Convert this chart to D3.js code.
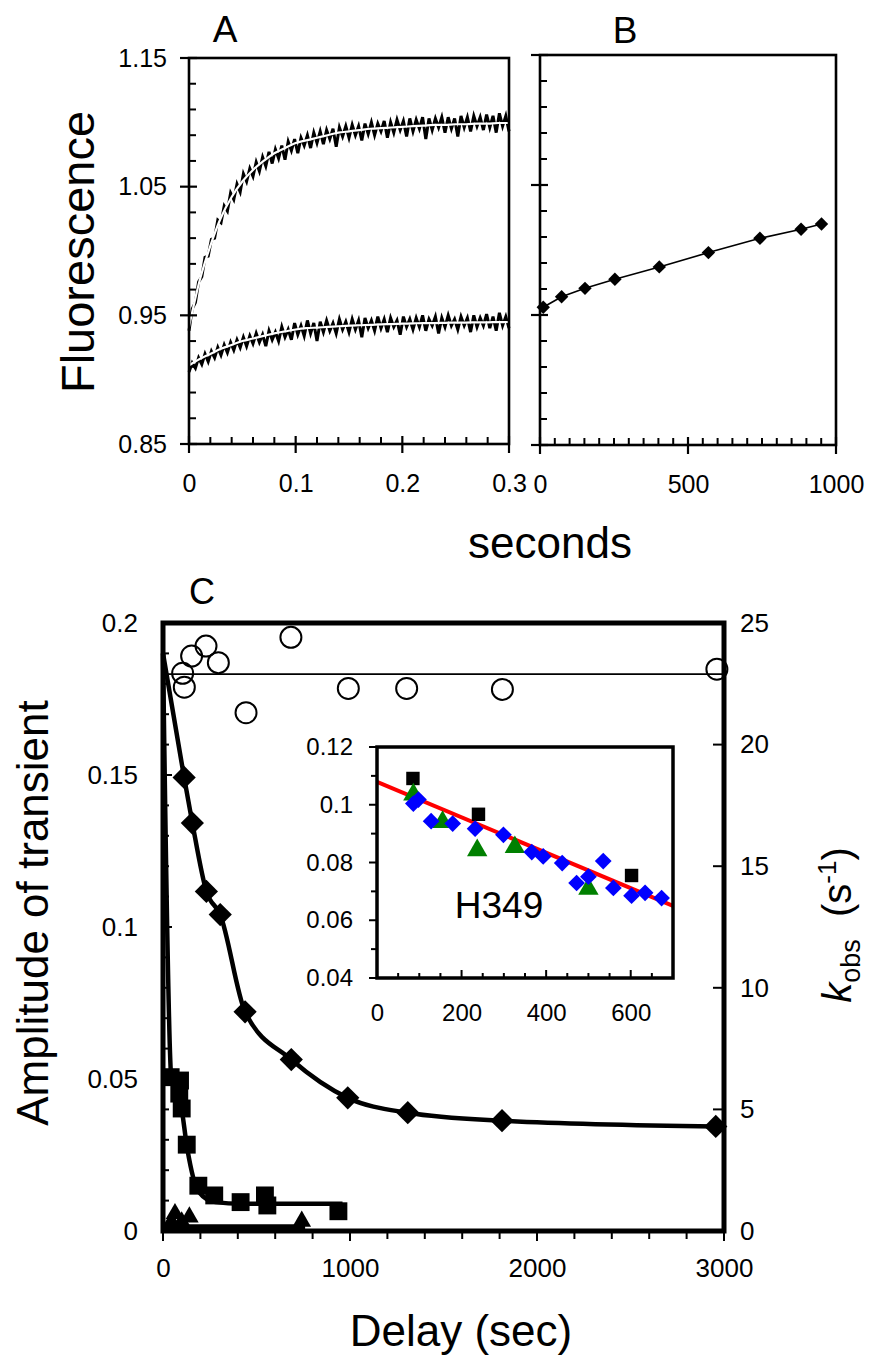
<!DOCTYPE html>
<html>
<head>
<meta charset="utf-8">
<script src="https://cdnjs.cloudflare.com/ajax/libs/d3/7.8.5/d3.min.js"></script>
<style>
  body { margin: 0; background: #fff; }
  svg text { font-family: 'Liberation Sans', Arial, sans-serif; fill: #000; }
</style>
</head>
<body>
<svg id="fig" width="874" height="1355"></svg>
<script>
/* global d3 */
// ---- panel A : stopped-flow traces (sampled every 3 ms) ----
const traceTime = d3.range(101).map(i => +(i * 0.003).toFixed(3))
const upperTrace = [0.938, 0.955, 0.960, 0.976, 0.980, 0.995, 0.996, 1.009, 1.010, 1.024,
  1.022, 1.035, 1.031, 1.045, 1.040, 1.052, 1.046, 1.060, 1.054, 1.064,
  1.058, 1.069, 1.062, 1.073, 1.066, 1.077, 1.068, 1.079, 1.072, 1.082,
  1.071, 1.085, 1.078, 1.087, 1.076, 1.088, 1.082, 1.090, 1.080, 1.092,
  1.084, 1.093, 1.083, 1.094, 1.087, 1.095, 1.081, 1.096, 1.089, 1.097,
  1.088, 1.098, 1.090, 1.097, 1.086, 1.099, 1.091, 1.100, 1.090, 1.099,
  1.093, 1.101, 1.088, 1.100, 1.092, 1.102, 1.094, 1.101, 1.089, 1.103,
  1.093, 1.102, 1.095, 1.104, 1.087, 1.103, 1.094, 1.103, 1.096, 1.104,
  1.092, 1.104, 1.095, 1.103, 1.089, 1.105, 1.096, 1.104, 1.093, 1.105,
  1.097, 1.104, 1.094, 1.106, 1.096, 1.105, 1.092, 1.107, 1.097, 1.105, 1.093]
const lowerTrace = [0.906, 0.913, 0.909, 0.917, 0.912, 0.920, 0.914, 0.922, 0.917, 0.925,
  0.919, 0.927, 0.921, 0.929, 0.923, 0.931, 0.925, 0.933, 0.926, 0.934,
  0.928, 0.936, 0.929, 0.935, 0.926, 0.938, 0.931, 0.937, 0.930, 0.941,
  0.933, 0.939, 0.931, 0.944, 0.935, 0.942, 0.934, 0.946, 0.936, 0.944,
  0.930, 0.945, 0.937, 0.946, 0.938, 0.944, 0.936, 0.947, 0.939, 0.945,
  0.937, 0.947, 0.939, 0.946, 0.933, 0.948, 0.940, 0.946, 0.938, 0.949,
  0.940, 0.947, 0.937, 0.948, 0.941, 0.946, 0.935, 0.949, 0.941, 0.947,
  0.939, 0.948, 0.941, 0.950, 0.938, 0.947, 0.942, 0.949, 0.936, 0.948,
  0.941, 0.950, 0.942, 0.947, 0.939, 0.949, 0.942, 0.948, 0.937, 0.950,
  0.941, 0.948, 0.942, 0.951, 0.940, 0.949, 0.938, 0.952, 0.942, 0.949, 0.940]
const fitTime = d3.range(31).map(i => +(i * 0.01).toFixed(2))
const upperFit = [0.941, 0.977, 1.004, 1.026, 1.042, 1.054, 1.063, 1.070, 1.076, 1.080,
  1.084, 1.086, 1.088, 1.090, 1.092, 1.093, 1.094, 1.095, 1.0955, 1.096,
  1.0965, 1.097, 1.0975, 1.098, 1.098, 1.0985, 1.0985, 1.099, 1.099, 1.0995, 1.0995]
const lowerFit = [0.911, 0.916, 0.920, 0.924, 0.927, 0.930, 0.932, 0.934, 0.936, 0.9375,
  0.939, 0.940, 0.9405, 0.941, 0.9415, 0.942, 0.9423, 0.9426, 0.943, 0.9432,
  0.9435, 0.9437, 0.944, 0.944, 0.9442, 0.9443, 0.9444, 0.9445, 0.9446, 0.9447, 0.9448]
const fluorTicks = [0.85, 0.95, 1.05, 1.15]
const secTicksA = [0, 0.1, 0.2, 0.3]

// ---- panel B ----
const bTime = [11, 73, 152, 253, 403, 569, 743, 882, 951]
const bFluor = [0.956, 0.964, 0.9705, 0.9775, 0.987, 0.998, 1.009, 1.016, 1.020]
const bStart = 0.953
const secTicksB = [0, 500, 1000]

// ---- panel C ----
const kTime = [105, 114, 153, 230, 296, 444, 684, 991, 1303, 1815, 2962]
const kObs = [22.93, 22.36, 23.64, 24.05, 23.37, 21.31, 24.41, 22.31, 22.31, 22.27, 23.1]
const kMean = 22.9
const diaTime = [113, 157, 232, 306, 439, 686, 988, 1309, 1813, 2956]
const diaAmp = [0.1492, 0.1342, 0.1117, 0.1041, 0.0721, 0.0564, 0.0438, 0.0389, 0.0363, 0.0344]
const diaStart = 0.19
const sqTime = [41, 87, 91, 100, 127, 189, 274, 415, 545, 558, 938]
const sqAmp = [0.0506, 0.0452, 0.0495, 0.0403, 0.0284, 0.0149, 0.0117, 0.0095, 0.0117, 0.0084, 0.0065]
const sqFitTime = [0, 45, 95, 130, 190, 280, 420, 960]
const sqFitAmp = [0.19, 0.05, 0.042, 0.027, 0.013, 0.0095, 0.009, 0.009]
const triTime = [45, 64, 100, 141, 742]
const triAmp = [0.003, 0.0057, 0.003, 0.0046, 0.0032]
const triFitTime = [0, 760]
const triFitAmp = [0.0012, 0.0012]
const ampTicks = [0, 0.05, 0.1, 0.15, 0.2]
const kTicks = [0, 5, 10, 15, 20, 25]
const delayTicks = [0, 1000, 2000, 3000]

// ---- inset (H349) ----
const insSqTime = [85, 240, 602]
const insSqVal = [0.1091, 0.0967, 0.0755]
const insTriTime = [86, 155, 237, 326, 500]
const insTriVal = [0.1035, 0.094, 0.0842, 0.0853, 0.0709]
const insDiaTime = [86, 98, 128, 179, 232, 299, 366, 393, 438, 472, 500, 535, 559, 602, 634, 673]
const insDiaVal = [0.1004, 0.1018, 0.0943, 0.0935, 0.0917, 0.0896, 0.0836, 0.0821, 0.0798, 0.0729,
  0.0751, 0.0805, 0.0712, 0.0685, 0.0695, 0.0677]
const insFitTime = [0, 700]
const insFitVal = [0.1079, 0.065]
const insYTicks = [0.04, 0.06, 0.08, 0.1, 0.12]
const insXTicks = [0, 200, 400, 600]

const svg = d3.select('#fig')
const FONT = "'Liberation Sans', Arial, sans-serif"

let vTicks = function (g, y, x0, values, out, inn, w) {
  g.append('g').selectAll('line').data(values).enter().append('line')
    .attr('x1', x0 - out).attr('x2', x0 + inn)
    .attr('y1', d => y(d)).attr('y2', d => y(d))
    .attr('stroke', '#000').attr('stroke-width', w)
}
let hTicks = function (g, x, y0, values, out, inn, w) {
  g.append('g').selectAll('line').data(values).enter().append('line')
    .attr('x1', d => x(d)).attr('x2', d => x(d))
    .attr('y1', y0 + out).attr('y2', y0 - inn)
    .attr('stroke', '#000').attr('stroke-width', w)
}
let labelAxis = function (axis, g, size) {
  g.call(axis.tickSize(0))
    .attr('font-size', size).attr('font-family', FONT)
  g.select('.domain').remove()
  g.selectAll('text').attr('fill', '#000')
}
let minors = function (lo, hi, step, majorEvery) {
  let n = Math.round((hi - lo) / step)
  return d3.range(n + 1).filter(i => i % majorEvery !== 0).map(i => +(lo + i * step).toFixed(4))
}
let frame = function (x, y, w) {
  svg.append('rect')
    .attr('x', x.range()[0]).attr('y', y.range()[1])
    .attr('width', x.range()[1] - x.range()[0])
    .attr('height', y.range()[0] - y.range()[1])
    .attr('fill', 'none').attr('stroke', '#000').attr('stroke-width', w)
}

// ================= panel A =================
const xA = d3.scaleLinear().domain([0, 0.3]).range([189, 509])
const yA = d3.scaleLinear().domain([0.85, 1.15]).range([444, 58])
const gA = svg.append('g')
let trace = d3.line().x((d, i) => xA(traceTime[i])).y(d => yA(d))
let fitA = d3.line().x((d, i) => xA(fitTime[i])).y(d => yA(d)).curve(d3.curveMonotoneX)
gA.append('path').attr('d', trace(upperTrace)).attr('fill', 'none').attr('stroke', '#000').attr('stroke-width', 3)
gA.append('path').attr('d', trace(lowerTrace)).attr('fill', 'none').attr('stroke', '#000').attr('stroke-width', 3)
gA.append('path').attr('d', fitA(upperFit)).attr('fill', 'none').attr('stroke', '#fff').attr('stroke-width', 2.2)
gA.append('path').attr('d', fitA(lowerFit)).attr('fill', 'none').attr('stroke', '#fff').attr('stroke-width', 2.2)
frame(xA, yA, 2.6)
vTicks(gA, yA, 189, fluorTicks, 9, 8, 2.2)
vTicks(gA, yA, 189, minors(0.85, 1.15, 0.02, 5), 0, 7, 2)
hTicks(gA, xA, 444, secTicksA, 9, 8, 2.2)
hTicks(gA, xA, 444, minors(0, 0.3, 0.02, 5), 0, 7, 2)
labelAxis(d3.axisLeft(yA).tickValues(fluorTicks).tickPadding(22).tickFormat(d => String(d)),
  svg.append('g').attr('transform', 'translate(189,0)'), 25)
labelAxis(d3.axisBottom(xA).tickValues(secTicksA).tickPadding(30).tickFormat(d => String(d)),
  svg.append('g').attr('transform', 'translate(0,444)'), 25)
svg.append('text').attr('x', 225).attr('y', 42).attr('text-anchor', 'middle')
  .attr('font-size', 37).text('A')
svg.append('text').attr('transform', 'translate(94,252) rotate(-90)')
  .attr('text-anchor', 'middle').attr('font-size', 47).text('Fluorescence')

// ================= panel B =================
const xB = d3.scaleLinear().domain([0, 1000]).range([540, 836])
const yB = d3.scaleLinear().domain([0.85, 1.15]).range([445, 55])
const gB = svg.append('g')
let lineB = d3.line().x(d => xB(d[0])).y(d => yB(d[1]))
gB.append('path').attr('d', lineB([[0, bStart]].concat(bTime.map((t, i) => [t, bFluor[i]]))))
  .attr('fill', 'none').attr('stroke', '#000').attr('stroke-width', 1.6)
frame(xB, yB, 2.6)
vTicks(gB, yB, 540, fluorTicks, 9, 8, 2.2)
vTicks(gB, yB, 540, minors(0.85, 1.15, 0.02, 5), 0, 7, 2)
hTicks(gB, xB, 445, secTicksB, 9, 8, 2.2)
hTicks(gB, xB, 445, minors(0, 1000, 50, 10), 0, 7, 2)
gB.selectAll('path.dia').data(bTime).enter().append('path')
  .attr('d', d3.symbol().type(d3.symbolSquare).size(90))
  .attr('transform', (d, i) => 'translate(' + xB(d) + ',' + yB(bFluor[i]) + ') rotate(45)')
  .attr('fill', '#000')
labelAxis(d3.axisBottom(xB).tickValues(secTicksB).tickPadding(30).tickFormat(d => String(d)),
  svg.append('g').attr('transform', 'translate(0,445)'), 25)
svg.append('text').attr('x', 625).attr('y', 43).attr('text-anchor', 'middle')
  .attr('font-size', 37).text('B')
svg.append('text').attr('x', 550).attr('y', 558).attr('text-anchor', 'middle')
  .attr('font-size', 44).text('seconds')

// ================= panel C =================
const xC = d3.scaleLinear().domain([0, 3000]).range([163, 724])
const yC = d3.scaleLinear().domain([0, 0.2]).range([1231, 623])
const kC = d3.scaleLinear().domain([0, 25]).range([1231, 623])
const gC = svg.append('g')

gC.append('line').attr('x1', xC(0)).attr('x2', xC(3000))
  .attr('y1', kC(kMean)).attr('y2', kC(kMean))
  .attr('stroke', '#000').attr('stroke-width', 1.8)
gC.selectAll('circle').data(kTime).enter().append('circle')
  .attr('cx', d => xC(d)).attr('cy', (d, i) => kC(kObs[i])).attr('r', 10.5)
  .attr('fill', 'none').attr('stroke', '#000').attr('stroke-width', 2)

let lineC = d3.line().x(d => xC(d[0])).y(d => yC(d[1])).curve(d3.curveMonotoneX)
gC.append('path').attr('d', lineC([[0, diaStart]].concat(diaTime.map((t, i) => [t, diaAmp[i]]))))
  .attr('fill', 'none').attr('stroke', '#000').attr('stroke-width', 4.5)
gC.append('path').attr('d', lineC(sqFitTime.map((t, i) => [t, sqFitAmp[i]])))
  .attr('fill', 'none').attr('stroke', '#000').attr('stroke-width', 4.5)
gC.append('path').attr('d', lineC(triFitTime.map((t, i) => [t, triFitAmp[i]])))
  .attr('fill', 'none').attr('stroke', '#000').attr('stroke-width', 6)

gC.append('g').selectAll('path').data(diaTime).enter().append('path')
  .attr('d', d3.symbol().type(d3.symbolSquare).size(270))
  .attr('transform', (d, i) => 'translate(' + xC(d) + ',' + yC(diaAmp[i]) + ') rotate(45)')
  .attr('fill', '#000')
gC.append('g').selectAll('path').data(sqTime).enter().append('path')
  .attr('d', d3.symbol().type(d3.symbolSquare).size(320))
  .attr('transform', (d, i) => 'translate(' + xC(d) + ',' + yC(sqAmp[i]) + ')')
  .attr('fill', '#000')
gC.append('g').selectAll('path').data(triTime).enter().append('path')
  .attr('d', d3.symbol().type(d3.symbolTriangle).size(150))
  .attr('transform', (d, i) => 'translate(' + xC(d) + ',' + yC(triAmp[i]) + ')')
  .attr('fill', '#000')

frame(xC, yC, 5)
vTicks(gC, yC, 163, ampTicks, 0, 9, 2)
vTicks(gC, yC, 163, minors(0, 0.2, 0.01, 5), 0, 6, 2)
vTicks(gC, kC, 724, kTicks, -2, -11, 2)
hTicks(gC, xC, 1231, delayTicks, 10, 0, 2)
hTicks(gC, xC, 1231, minors(0, 3000, 200, 5).filter(d => d % 1000 !== 0), 8, 0, 2)
labelAxis(d3.axisLeft(yC).tickValues(ampTicks).tickPadding(25).tickFormat(d => String(d)),
  svg.append('g').attr('transform', 'translate(163,0)'), 26)
labelAxis(d3.axisRight(kC).tickValues(kTicks).tickPadding(16).tickFormat(d => String(d)),
  svg.append('g').attr('transform', 'translate(724,0)'), 26)
labelAxis(d3.axisBottom(xC).tickValues(delayTicks).tickPadding(28).tickFormat(d => String(d)),
  svg.append('g').attr('transform', 'translate(0,1231)'), 26)

svg.append('text').attr('x', 202).attr('y', 604).attr('text-anchor', 'middle')
  .attr('font-size', 36).text('C')
svg.append('text').attr('x', 461).attr('y', 1346).attr('text-anchor', 'middle')
  .attr('font-size', 44).text('Delay (sec)')
svg.append('text').attr('transform', 'translate(48,913) rotate(-90)')
  .attr('text-anchor', 'middle').attr('font-size', 44).text('Amplitude of transient')
let kLab = svg.append('text').attr('transform', 'translate(851,925) rotate(-90)')
  .attr('text-anchor', 'middle').attr('font-size', 40)
kLab.append('tspan').attr('font-style', 'italic').text('k')
kLab.append('tspan').attr('font-size', 27).attr('dy', 9).text('obs')
kLab.append('tspan').attr('dy', -9).text('\u00a0\u00a0(s')
kLab.append('tspan').attr('font-size', 26).attr('dy', -15).text('-1')
kLab.append('tspan').attr('dy', 15).text(')')

// ================= inset =================
const xI = d3.scaleLinear().domain([0, 700]).range([377, 673])
const yI = d3.scaleLinear().domain([0.04, 0.12]).range([978, 747])
const gI = svg.append('g')
gI.append('rect').attr('x', 377).attr('y', 747).attr('width', 296).attr('height', 231).attr('fill', '#fff')
gI.append('path').attr('d', d3.line().x(d => xI(d[0])).y(d => yI(d[1]))(insFitTime.map((t, i) => [t, insFitVal[i]])))
  .attr('stroke', '#ff0000').attr('stroke-width', 4).attr('fill', 'none')
gI.append('g').selectAll('path').data(insSqTime).enter().append('path')
  .attr('d', d3.symbol().type(d3.symbolSquare).size(180))
  .attr('transform', (d, i) => 'translate(' + xI(d) + ',' + yI(insSqVal[i]) + ')')
  .attr('fill', '#000')
gI.append('g').selectAll('path').data(insTriTime).enter().append('path')
  .attr('d', d3.symbol().type(d3.symbolTriangle).size(180))
  .attr('transform', (d, i) => 'translate(' + xI(d) + ',' + yI(insTriVal[i]) + ')')
  .attr('fill', '#008000')
gI.append('g').selectAll('path').data(insDiaTime).enter().append('path')
  .attr('d', d3.symbol().type(d3.symbolSquare).size(140))
  .attr('transform', (d, i) => 'translate(' + xI(d) + ',' + yI(insDiaVal[i]) + ') rotate(45)')
  .attr('fill', '#0000ff')
frame(xI, yI, 3.5)
vTicks(gI, yI, 377, insYTicks, 8, 0, 2)
vTicks(gI, yI, 377, minors(0.04, 0.12, 0.01, 2), 6, 0, 2)
hTicks(gI, xI, 978, insXTicks, 0, 8, 2)
hTicks(gI, xI, 978, minors(0, 700, 50, 4), 0, 5, 2)
labelAxis(d3.axisLeft(yI).tickValues(insYTicks).tickPadding(24).tickFormat(d => String(d)),
  svg.append('g').attr('transform', 'translate(377,0)'), 24)
labelAxis(d3.axisBottom(xI).tickValues(insXTicks).tickPadding(26).tickFormat(d => String(d)),
  svg.append('g').attr('transform', 'translate(0,978)'), 24)
svg.append('text').attr('x', 499).attr('y', 918).attr('text-anchor', 'middle')
  .attr('font-size', 37).text('H349')
</script>
</body>
</html>
